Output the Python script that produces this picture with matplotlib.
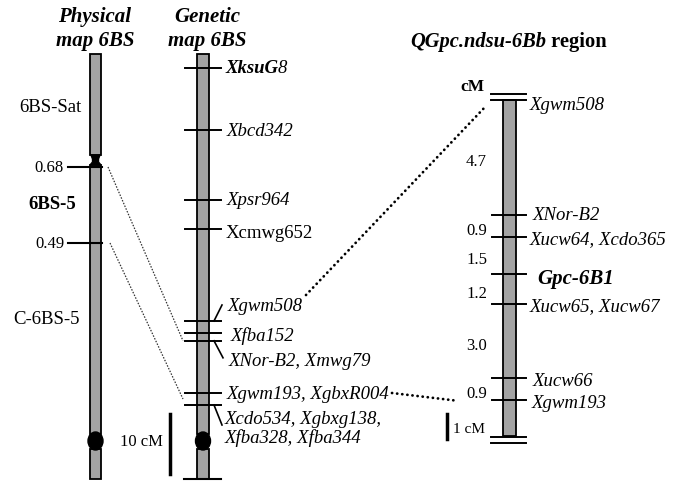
import matplotlib
matplotlib.use("Agg")
import matplotlib.pyplot as plt
from matplotlib.patches import Rectangle, Ellipse, Polygon

# ---------------- data ----------------
# Physical map (fraction length breakpoints)
phys_breaks = [0.68, 0.49]
phys_bins = ["6BS-Sat", "6BS-5", "C-6BS-5"]

# Genetic map 6BS (cM from top of drawn chromosome)
gen_markers = ["XksuG8", "Xbcd342", "Xpsr964", "Xcmwg652", "Xgwm508",
               "Xfba152", "XNor-B2, Xmwg79", "Xgwm193, XgbxR004",
               "Xcdo534, Xgbxg138,\nXfba328, Xfba344"]
gen_cm = [2.3, 12.7, 24.3, 29.2, 44.5, 46.5, 47.8, 56.5, 58.5]

# QGpc.ndsu-6Bb region (intervals in cM)
reg_markers = ["Xgwm508", "XNor-B2", "Xucw64, Xcdo365", "Gpc-6B1",
               "Xucw65, Xucw67", "Xucw66", "Xgwm193"]
reg_intervals = [4.7, 0.9, 1.5, 1.2, 3.0, 0.9]

# ---------------- layout ----------------
W, H = 677, 485
fig = plt.figure(figsize=(W / 100, H / 100), dpi=100)
ax = fig.add_axes([0, 0, 1, 1])
ax.set_xlim(0, W)
ax.set_ylim(H, 0)
ax.axis("off")

SERIF = "Liberation Serif"
GRAY = "#a3a3a3"
LW = 1.3
FS = 13.5

def chrom_rect(x0, x1, y0, y1):
    ax.add_patch(Rectangle((x0, y0), x1 - x0, y1 - y0, facecolor=GRAY,
                           edgecolor="black", lw=LW, zorder=2))

# ---- titles ----
tkw = dict(ha="center", va="center", fontsize=15, family=SERIF,
           weight="bold", style="italic")
ax.text(95, 17, "Physical", **tkw)
ax.text(95, 41, "map 6BS", **tkw)
ax.text(207, 17, "Genetic", **tkw)
ax.text(207, 41, "map 6BS", **tkw)
t = ax.text(410, 42, "QGpc.ndsu-6Bb", ha="left", va="center", fontsize=14.8,
            family=SERIF, weight="bold", style="italic")
ax.annotate(" region", xy=(1, 0), xycoords=t, ha="left", va="bottom",
            fontsize=14.8, family=SERIF, weight="bold")

# ---- physical map ----
px0, px1 = 90, 101
pcx = (px0 + px1) / 2
fl_to_y = lambda fl: 440 - 400 * fl
chrom_rect(px0, px1, 55, 156)
ax.add_patch(Polygon([(px0 + 1, 156), (px1 - 1, 156), (px1 - 2.5, 160),
                      (px1 - 2.5, 163), (px1, 166), (px0, 166),
                      (px0 + 2.5, 163), (px0 + 2.5, 160)],
                     closed=True, facecolor="black", edgecolor="black", lw=1, zorder=3))
chrom_rect(px0, px1, 166, 435)
ax.add_patch(Ellipse((pcx, 442), 15, 18, facecolor="black", edgecolor="black", zorder=3))
chrom_rect(px0, px1, 450, 480)
for fl in phys_breaks:
    y = fl_to_y(fl)
    ax.plot([68, px1 + 1], [y, y], color="black", lw=1.5, zorder=4)
    ax.text(64, y, f"{fl:.2f}", ha="right", va="center", fontsize=12, family=SERIF)
ax.text(50, 107, phys_bins[0], ha="center", va="center", fontsize=13.5, family=SERIF)
ax.text(52, 205, phys_bins[1], ha="center", va="center", fontsize=13.5, family=SERIF,
        weight="bold")
ax.text(47, 320, phys_bins[2], ha="center", va="center", fontsize=13.5, family=SERIF)

# ---- genetic map ----
gx0, gx1 = 197, 209
gcx = (gx0 + gx1) / 2
g_top, g_scale = 55, 6.0
cm_to_y = lambda c: g_top + g_scale * c
chrom_rect(gx0, gx1, g_top, 435)
ax.add_patch(Ellipse((gcx, 442), 15, 18, facecolor="black", edgecolor="black", zorder=3))
chrom_rect(gx0, gx1, 450, 480)
ax.plot([184, 221], [480, 480], color="black", lw=1.5, zorder=4)

gy = [cm_to_y(c) for c in gen_cm]
for y in gy:
    ax.plot([185, 221], [y, y], color="black", lw=1.4, zorder=4)

lab_kw = dict(va="center", fontsize=FS, family=SERIF, style="italic")
# XksuG8 (bold part + regular digit)
t = ax.text(225, gy[0], "XksuG", ha="left", weight="bold", **lab_kw)
ax.annotate("8", xy=(1, 0), xycoords=t, ha="left", va="bottom", fontsize=FS,
            family=SERIF, style="italic")
ax.text(227, gy[1], gen_markers[1], ha="left", **lab_kw)
ax.text(227, gy[2], gen_markers[2], ha="left", **lab_kw)
ax.text(226, gy[3] + 3, gen_markers[3], ha="left", va="center", fontsize=FS, family=SERIF)
# leaders + labels
ax.plot([214, 222], [gy[4], gy[4] - 16], color="black", lw=1.2)
ax.text(228, gy[4] - 15, gen_markers[4], ha="left", **lab_kw)
ax.text(231, gy[5] + 2, gen_markers[5], ha="left", **lab_kw)
ax.plot([214, 223], [gy[6], gy[6] + 17], color="black", lw=1.2)
ax.text(229, gy[6] + 20, gen_markers[6], ha="left", **lab_kw)
ax.text(227, gy[7] + 1, gen_markers[7], ha="left", **lab_kw)
ax.plot([214, 222], [gy[8], gy[8] + 20], color="black", lw=1.2)
ax.text(225, gy[8] + 23, gen_markers[8], ha="left", va="center", fontsize=FS,
        family=SERIF, style="italic", linespacing=1.05)

# scale bar 10 cM
ax.plot([170, 170], [415, 415 + 10 * g_scale], color="black", lw=2.5)
ax.text(163, 442, "10 cM", ha="right", va="center", fontsize=12, family=SERIF)

# thin dotted connectors physical -> genetic
ax.plot([108, 183], [fl_to_y(0.68), gy[6]], color="#333333", lw=0.9,
        linestyle=(0, (1.2, 1.2)))
ax.plot([110, 183], [fl_to_y(0.49), gy[7] + 6], color="#333333", lw=0.9,
        linestyle=(0, (1.2, 1.2)))

# ---- region map ----
rx0, rx1 = 503, 516
r_top, r_scale = 99.5, 24.7
cum = [0.0]
for d in reg_intervals:
    cum.append(cum[-1] + d)
ry = [r_top + r_scale * c for c in cum]
r_bot = ry[-1] + 1.5 * r_scale
chrom_rect(rx0, rx1, 101, r_bot - 1)
for yy in (95, 100.5, r_bot, r_bot + 6):
    ax.plot([491, 526], [yy, yy], color="black", lw=1.4, zorder=4)
for y in ry[1:]:
    ax.plot([492, 526], [y, y], color="black", lw=1.4, zorder=4)
ax.text(472, 87, "cM", ha="center", va="center", fontsize=12.5, family=SERIF,
        weight="bold")
lx = [530, 533, 530, 537, 530, 533, 532]
loff = [6, 0, 2, 4, 2, 3, 3]
for i, (name, y) in enumerate(zip(reg_markers, ry)):
    if name == "Gpc-6B1":
        ax.text(lx[i], y + loff[i], name, ha="left", va="center", fontsize=15,
                family=SERIF, style="italic", weight="bold")
    else:
        ax.text(lx[i], y + loff[i], name, ha="left", **lab_kw)
for d, ya, yb in zip(reg_intervals, ry[:-1], ry[1:]):
    ax.text(487, (ya + yb) / 2 + 4, f"{d:.1f}", ha="right", va="center",
            fontsize=12, family=SERIF)

# scale bar 1 cM
ax.plot([447, 447], [415, 415 + r_scale], color="black", lw=2.5)
ax.text(453, 430, "1 cM", ha="left", va="center", fontsize=11, family=SERIF)

# thick dotted connectors genetic -> region
dots = dict(color="black", lw=2.0, linestyle=(0, (0.05, 1.8)),
            dash_capstyle="round")
ax.plot([306, 486], [296, 107], **dots)
ax.plot([392, 458], [gy[7], ry[-1] + 1], **dots)

fig.savefig("out.png", dpi=100)
